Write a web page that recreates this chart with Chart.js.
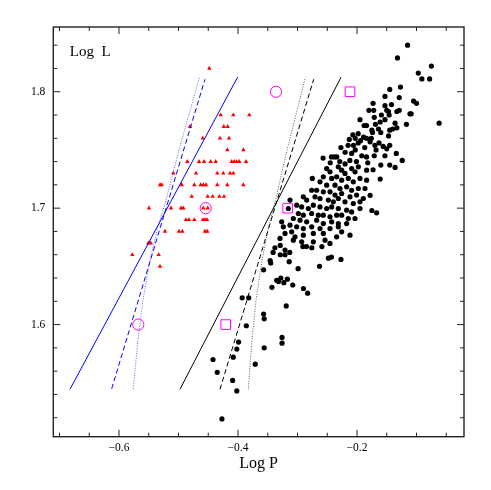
<!DOCTYPE html>
<html>
<head>
<meta charset="utf-8">
<script src="https://cdn.jsdelivr.net/npm/chart.js@4/dist/chart.umd.min.js"></script>
<style>
  html, body { margin: 0; padding: 0; background: #fff; }
  #wrap { width: 491px; height: 490px; }
</style>
</head>
<body>
<div id="wrap"><canvas id="c" width="491" height="490"></canvas></div>
<script>
// ---- axis ranges and ticks ----
const xRange = [-0.7104, -0.0202];
const yRange = [1.5037, 1.8556];
const xMajorTicks = [-0.6, -0.4, -0.2];
const xMinorTicks = [-0.7, -0.65, -0.55, -0.5, -0.45, -0.35, -0.3, -0.25, -0.15, -0.1, -0.05];
const yMajorTicks = [1.6, 1.7, 1.8];
const yMinorTicks = [1.52, 1.54, 1.56, 1.58, 1.62, 1.64, 1.66, 1.68, 1.72, 1.74, 1.76, 1.78, 1.82, 1.84];
const xTitle = 'Log P';
const yTitle = 'Log  L';

// ---- black filled circles [logP, logL] ----
const blackStars = [
  // upper sequence
  [-0.115,1.840],[-0.132,1.829],[-0.075,1.822],[-0.097,1.816],[-0.091,1.811],[-0.078,1.811],[-0.127,1.804],
  [-0.145,1.802],[-0.129,1.795],[-0.153,1.796],[-0.105,1.792],[-0.100,1.790],[-0.142,1.789],[-0.153,1.788],
  [-0.150,1.784],[-0.147,1.783],[-0.133,1.783],[-0.129,1.784],[-0.146,1.780],[-0.111,1.781],[-0.109,1.781],
  [-0.180,1.784],[-0.172,1.784],[-0.171,1.778],[-0.159,1.780],[-0.153,1.776],[-0.195,1.776],[-0.161,1.774],
  [-0.169,1.772],[-0.184,1.771],[-0.188,1.771],[-0.136,1.773],[-0.133,1.769],[-0.117,1.772],[-0.062,1.773],
  [-0.164,1.768],[-0.160,1.765],[-0.145,1.767],[-0.140,1.768],[-0.175,1.767],[-0.174,1.765],[-0.198,1.764],
  [-0.207,1.763],[-0.189,1.761],[-0.184,1.760],[-0.176,1.760],[-0.147,1.762],[-0.213,1.759],[-0.203,1.760],
  [-0.173,1.790],
  [-0.198,1.756],[-0.194,1.758],[-0.178,1.757],[-0.163,1.756],[-0.156,1.753],[-0.150,1.751],[-0.220,1.748],
  [-0.209,1.747],[-0.203,1.750],[-0.192,1.745],[-0.184,1.744],[-0.171,1.745],[-0.134,1.747],[-0.257,1.743],
  [-0.243,1.744],[-0.234,1.744],[-0.229,1.740],[-0.220,1.738],[-0.212,1.741],[-0.201,1.740],
  [-0.145,1.737],[-0.124,1.741],[-0.136,1.735],[-0.160,1.737],[-0.187,1.752],[-0.168,1.750],[-0.227,1.752],
  [-0.215,1.754],[-0.182,1.739],[-0.245,1.739],[-0.153,1.745],
  [-0.206,1.754],[-0.170,1.754],[-0.145,1.754],[-0.238,1.744],
  [-0.173,1.733],[-0.161,1.725],[-0.175,1.698],[-0.167,1.696],[-0.178,1.711],
  // dense core
  [-0.2510,1.7340],[-0.2454,1.7312],[-0.2314,1.7355],[-0.2258,1.7326],[-0.2202,1.7298],[-0.2090,1.7340],
  [-0.2034,1.7312],[-0.1978,1.7355],[-0.1838,1.7326],[-0.2566,1.7269],[-0.2426,1.7255],[-0.2342,1.7269],
  [-0.2258,1.7240],[-0.2146,1.7255],[-0.2062,1.7226],[-0.1950,1.7255],[-0.1838,1.7240],[-0.2751,1.7255],
  [-0.2622,1.7226],[-0.2510,1.7197],[-0.2370,1.7197],[-0.2286,1.7169],[-0.2174,1.7183],[-0.2090,1.7154],
  [-0.1978,1.7169],[-0.1866,1.7169],[-0.2678,1.7154],[-0.2762,1.7154],[-0.2566,1.7140],[-0.2454,1.7140],
  [-0.2370,1.7112],[-0.2258,1.7126],[-0.2118,1.7097],[-0.2006,1.7112],[-0.1894,1.7083],[-0.2902,1.7097],
  [-0.2846,1.7069],[-0.2706,1.7097],[-0.2622,1.7083],[-0.2482,1.7069],[-0.2398,1.7054],[-0.2314,1.7083],
  [-0.2202,1.7054],[-0.2062,1.7040],[-0.1950,1.7054],[-0.3126,1.7069],[-0.3154,1.6997],[-0.3014,1.7026],
  [-0.2930,1.7011],[-0.2818,1.6997],[-0.2734,1.7026],[-0.2622,1.7011],[-0.2510,1.6997],[-0.2426,1.7011],
  [-0.2314,1.6997],[-0.2174,1.6983],[-0.2090,1.6968],[-0.1950,1.6997],[-0.2986,1.6954],[-0.2902,1.6940],
  [-0.2762,1.6954],[-0.2650,1.6940],[-0.2566,1.6940],[-0.2454,1.6926],[-0.2342,1.6940],[-0.2258,1.6940],
  [-0.2146,1.6911],[-0.2034,1.6911],[-0.3070,1.6911],[-0.2958,1.6897],[-0.2846,1.6883],[-0.2678,1.6897],
  [-0.2566,1.6868],[-0.2426,1.6883],[-0.2314,1.6868],[-0.2174,1.6868],[-0.3266,1.6883],[-0.3238,1.6840],
  [-0.3126,1.6854],[-0.3014,1.6840],[-0.2902,1.6825],[-0.2762,1.6840],[-0.2622,1.6825],[-0.2454,1.6825],
  [-0.2314,1.6840],[-0.3210,1.6783],[-0.3098,1.6797],[-0.3042,1.6754],[-0.2902,1.6768],[-0.2734,1.6783],
  [-0.2566,1.6783],[-0.2258,1.6797],[-0.2118,1.6768],[-0.3294,1.6740],[-0.3070,1.6725],[-0.2930,1.6711],
  [-0.2734,1.6711],[-0.2538,1.6725],[-0.2454,1.6697],[-0.2342,1.6754],
  // lower tail
  [-0.341,1.662],[-0.338,1.666],[-0.329,1.668],
  [-0.321,1.664],[-0.329,1.660],[-0.321,1.660],[-0.313,1.662],[-0.291,1.667],[-0.285,1.667],[-0.276,1.666],
  [-0.259,1.667],[-0.248,1.657],[-0.243,1.658],[-0.227,1.656],[-0.263,1.650],[-0.346,1.655],[-0.345,1.653],
  [-0.314,1.654],[-0.299,1.648],[-0.357,1.647],
  [-0.335,1.638],[-0.332,1.637],[-0.328,1.640],[-0.323,1.636],[-0.317,1.639],[-0.343,1.632],[-0.308,1.634],
  [-0.290,1.631],[-0.283,1.627],[-0.393,1.623],[-0.382,1.623],[-0.319,1.616],[-0.357,1.609],[-0.356,1.605],
  [-0.386,1.599],[-0.326,1.589],[-0.326,1.584],[-0.399,1.585],[-0.402,1.579],[-0.356,1.580],[-0.408,1.572],
  [-0.442,1.570],[-0.371,1.566],[-0.435,1.559],[-0.409,1.552],[-0.402,1.543],[-0.427,1.519]
];

// ---- red triangles [logP, logL] ----
const redStars = [
  [-0.4482,1.82],
  [-0.4291,1.78],[-0.4079,1.78],[-0.3810,1.78],
  [-0.4807,1.77],[-0.4240,1.77],[-0.4173,1.77],
  [-0.4593,1.76],[-0.4303,1.76],[-0.4151,1.76],
  [-0.4180,1.75],[-0.3911,1.75],
  [-0.4852,1.74],[-0.4655,1.74],[-0.4571,1.74],[-0.4459,1.74],[-0.4375,1.74],[-0.4106,1.74],[-0.4062,1.74],
  [-0.4022,1.74],[-0.3978,1.74],[-0.3866,1.74],
  [-0.5087,1.73],[-0.4706,1.73],[-0.4348,1.73],[-0.4247,1.73],[-0.4134,1.73],[-0.4079,1.73],
  [-0.5311,1.72],[-0.5282,1.72],[-0.4946,1.72],[-0.4734,1.72],[-0.4627,1.72],[-0.4583,1.72],[-0.4538,1.72],
  [-0.4348,1.72],[-0.4180,1.72],[-0.3911,1.72],
  [-0.4778,1.71],[-0.4509,1.71],[-0.4425,1.71],[-0.4314,1.71],[-0.4235,1.71],
  [-0.5496,1.70],[-0.5126,1.70],[-0.4958,1.70],[-0.4919,1.70],[-0.4583,1.70],[-0.4509,1.70],
  [-0.4874,1.69],[-0.4824,1.69],[-0.4734,1.69],[-0.4588,1.69],[-0.4555,1.69],[-0.4521,1.69],
  [-0.5227,1.68],[-0.4992,1.68],[-0.4936,1.68],[-0.4555,1.68],[-0.4516,1.68],
  [-0.5508,1.67],[-0.5467,1.67],
  [-0.5776,1.66],[-0.5333,1.66],
  [-0.5311,1.65]
];

// ---- magenta reference markers ----
const openCircles = [[-0.3361,1.8],[-0.4543,1.7],[-0.5676,1.6]];
const openSquares = [[-0.2118,1.8],[-0.3165,1.7],[-0.4207,1.6]];

// ---- relations ----
const blueSolid  = [[-0.6824,1.5444],[-0.4005,1.8127]];
const blueDashed = [[-0.6123,1.5449],[-0.4555,1.8107]];
const blueDotted = [[-0.5760,1.5449],[-0.5681,1.5867],[-0.5597,1.6210],[-0.5479,1.6554],[-0.5361,1.6811],
                    [-0.5210,1.7069],[-0.4992,1.7498],[-0.4650,1.8122]];
const blackSolid  = [[-0.4975,1.5444],[-0.2269,1.8124]];
const blackDashed = [[-0.4303,1.5444],[-0.2728,1.8107]];
const blackDotted = [[-0.3827,1.5444],[-0.3765,1.5867],[-0.3697,1.6210],[-0.3597,1.6554],[-0.3496,1.6811],
                     [-0.3370,1.7069],[-0.3176,1.7498],[-0.2869,1.8122]];

const pts = a => a.map(([x, y]) => ({x, y}));
const FONT = '"Liberation Serif", "DejaVu Serif", serif';

function lineDS(data, color, dash, width) {
  return { type: 'scatter', data: pts(data), showLine: true, borderColor: color, borderWidth: width,
           borderDash: dash, pointRadius: 0, pointHoverRadius: 0, fill: false, tension: 0 };
}

const frameTicks = {
  id: 'frameTicks',
  afterDraw(chart) {
    const {ctx, chartArea: a, scales: {x, y}} = chart;
    ctx.save();
    ctx.strokeStyle = '#222';
    ctx.lineWidth = 1;
    const major = 7, minor = 4;
    ctx.beginPath();
    const xt = (vals, len) => vals.forEach(v => {
      const p = x.getPixelForValue(v);
      ctx.moveTo(p, a.bottom); ctx.lineTo(p, a.bottom - len);
      ctx.moveTo(p, a.top); ctx.lineTo(p, a.top + len);
    });
    const yt = (vals, len) => vals.forEach(v => {
      const p = y.getPixelForValue(v);
      ctx.moveTo(a.left, p); ctx.lineTo(a.left + len, p);
      ctx.moveTo(a.right, p); ctx.lineTo(a.right - len, p);
    });
    xt(xMajorTicks, major); xt(xMinorTicks, minor);
    yt(yMajorTicks, major); yt(yMinorTicks, minor);
    ctx.stroke();
    ctx.lineWidth = 1.4;
    ctx.strokeRect(a.left, a.top, a.right - a.left, a.bottom - a.top);
    ctx.fillStyle = '#000';
    ctx.font = '15px ' + FONT;
    ctx.textAlign = 'left';
    ctx.textBaseline = 'middle';
    ctx.fillText(yTitle, a.left + 16.5, a.top + 25);
    ctx.restore();
  }
};

new Chart(document.getElementById('c'), {
  type: 'scatter',
  data: {
    datasets: [
      lineDS(blueSolid, '#0000ff', [], 1),
      lineDS(blueDashed, '#0000ff', [5, 3], 1),
      lineDS(blueDotted, '#3b3bff', [1, 1.5], 0.8),
      lineDS(blackSolid, '#000', [], 1),
      lineDS(blackDashed, '#000', [5, 3], 1),
      lineDS(blackDotted, '#333', [1, 1.5], 0.8),
      { data: pts(blackStars), pointStyle: 'circle', pointRadius: 2.6, backgroundColor: '#000',
        borderWidth: 0 },
      { data: pts(redStars), pointStyle: 'triangle', pointRadius: 2.6, backgroundColor: '#ff0000',
        borderColor: '#ff0000', borderWidth: 0 },
      { data: pts(openCircles), pointStyle: 'circle', pointRadius: 5.6, backgroundColor: 'rgba(0,0,0,0)',
        borderColor: '#ff00ff', borderWidth: 1 },
      { data: pts(openSquares), pointStyle: 'rect', pointRadius: 6.8, backgroundColor: 'rgba(0,0,0,0)',
        borderColor: '#ff00ff', borderWidth: 1 }
    ]
  },
  options: {
    responsive: false,
    animation: false,
    events: [],
    layout: { padding: { left: 0, right: 27, top: 27, bottom: 0 } },
    plugins: { legend: { display: false }, tooltip: { enabled: false } },
    scales: {
      x: {
        type: 'linear', min: xRange[0], max: xRange[1],
        grid: { display: false, drawTicks: false },
        border: { display: false },
        afterBuildTicks: s => { s.ticks = xMajorTicks.map(v => ({value: v})); },
        afterFit: s => { s.height = 53.3; },
        ticks: {
          autoSkip: false, maxRotation: 0, padding: 4, color: '#000',
          font: { family: FONT, size: 11.5 },
          callback: v => (v < 0 ? '\u2212' : '') + Math.abs(v).toFixed(1)
        },
        title: { display: true, text: xTitle, color: '#000', font: { family: FONT, size: 16 },
                 padding: { top: 0, bottom: 17 } }
      },
      y: {
        type: 'linear', min: yRange[0], max: yRange[1],
        grid: { display: false, drawTicks: false },
        border: { display: false },
        afterBuildTicks: s => { s.ticks = yMajorTicks.map(v => ({value: v})); },
        afterFit: s => { s.width = 53.3; },
        ticks: {
          autoSkip: false, padding: 8, color: '#000',
          font: { family: FONT, size: 11.5 },
          callback: v => v.toFixed(1)
        }
      }
    }
  },
  plugins: [frameTicks]
});
</script>
</body>
</html>
